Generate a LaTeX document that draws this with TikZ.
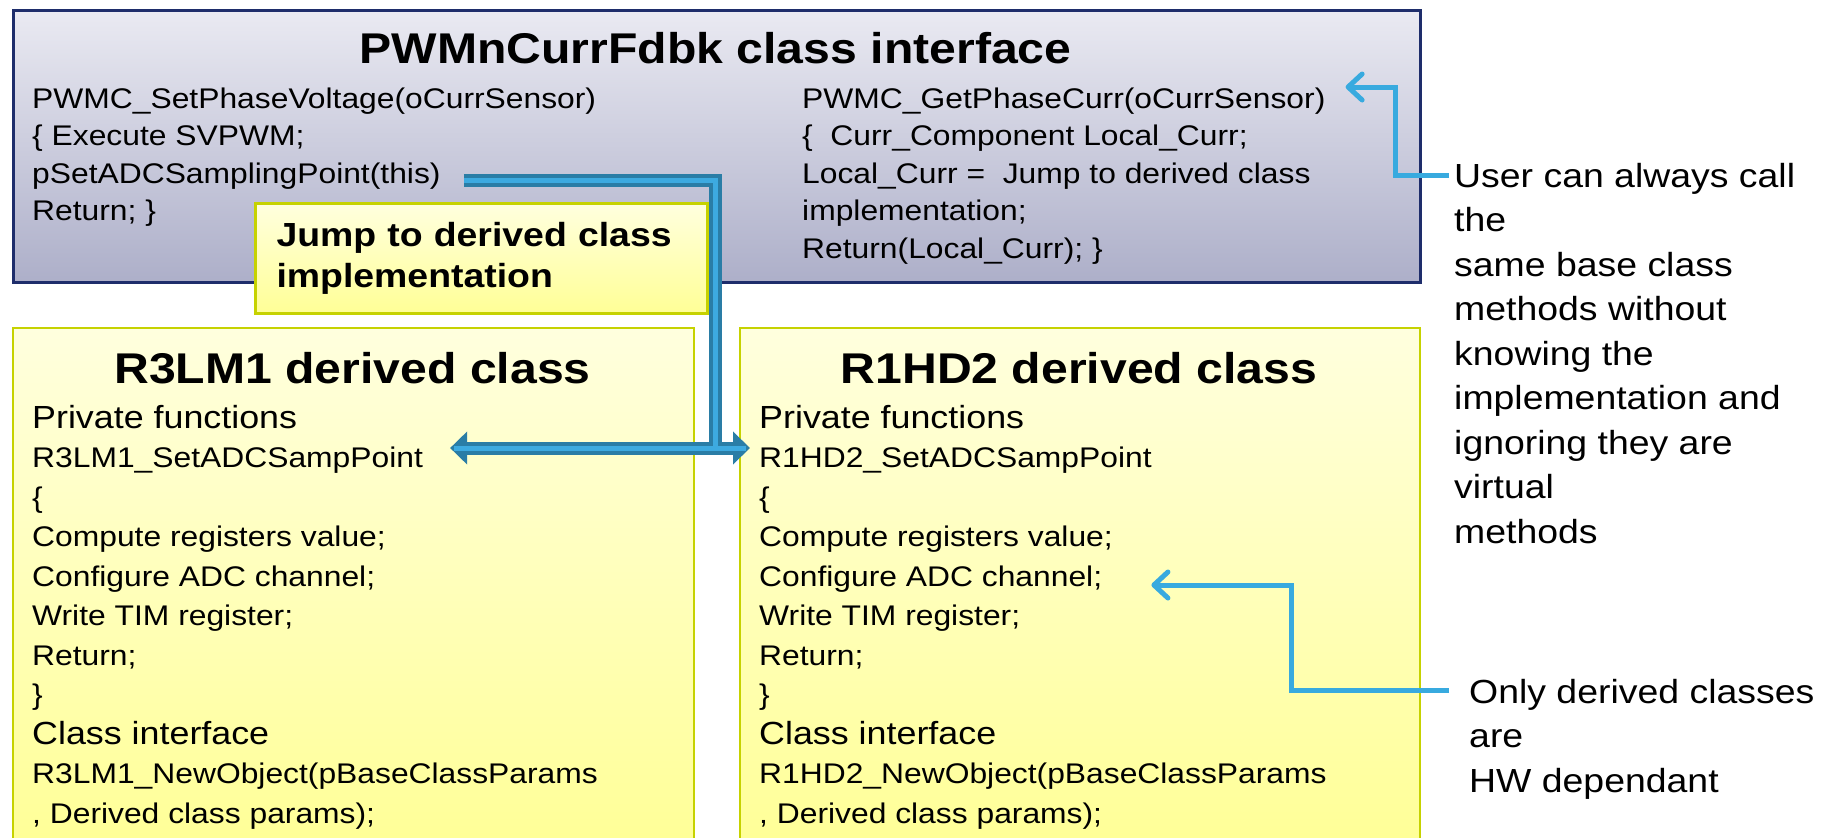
\documentclass[tikz,border=0pt]{standalone}
\usepackage{fontspec}
\setmainfont[FakeStretch=1.12]{Liberation Sans}
\usetikzlibrary{arrows.meta}

\begin{document}
\begin{tikzpicture}[x=1pt,y=-1pt]
%% Colors
\definecolor{baseTop}{HTML}{EAEAF2}
\definecolor{baseBot}{HTML}{ADAFC9}
\definecolor{baseLine}{HTML}{1E2D6B}
\definecolor{yelTop}{HTML}{FFFFDE}
\definecolor{yelBot}{HTML}{FFFF96}
\definecolor{yelLine}{HTML}{C6D200}
\definecolor{jumpDark}{HTML}{2A7DA6}
\definecolor{jumpLight}{HTML}{3DAAE0}
\definecolor{hintCol}{HTML}{38AADF}
%% Styles
\tikzset{
  boxcorner/.style={anchor=north west, inner sep=0pt},
  basebox/.style={boxcorner, draw=baseLine, line width=2.5pt, top color=baseTop, bottom color=baseBot},
  derbox/.style={boxcorner, draw=yelLine, line width=2pt, top color=yelTop, bottom color=yelBot},
  callbox/.style={boxcorner, draw=yelLine, line width=3pt, top color=yelTop, bottom color=yelBot,
    text width=410pt, inner xsep=21pt, align=left, minimum height=110pt,
    font=\bfseries\fontsize{33.4}{41}\selectfont},
  code/.style={anchor=base west, inner sep=0pt, font=\fontsize{28.4}{34}\selectfont},
  codebig/.style={code, font=\fontsize{32}{38}\selectfont},
  heading/.style={anchor=base, inner sep=0pt, font=\bfseries\fontsize{43}{50}\selectfont},
  note/.style={anchor=north west, inner sep=0pt, align=left, font=\fontsize{33.4}{44.5}\selectfont},
  jumpout/.style={draw=jumpDark, line width=13pt, -{Triangle[length=17pt,width=32pt]}},
  jumpin/.style={draw=jumpLight, line width=5pt, shorten >=4pt},
  hint/.style={draw=hintCol, line width=5pt, -{Straight Barb[length=14pt,width=26pt,round]}}
}
\useasboundingbox (0,0) rectangle (1829,838);
\begin{scope}
\clip (0,0) rectangle (1829,838);

%% Base class
\node[basebox, minimum width=1407pt, minimum height=272pt] (base) at (12,9) {};
\node[heading] (title) at (715.5,63) {PWMnCurrFdbk class interface};
\foreach \txt [count=\i] in {{PWMC\_SetPhaseVoltage(oCurrSensor)}, {\{ Execute SVPWM;},
  {pSetADCSamplingPoint(this)}, {Return; \}}}
  \node[code] (bl\i) at (32,108+37.5*\i-37.5) {\txt};
\foreach \txt [count=\i] in {{PWMC\_GetPhaseCurr(oCurrSensor)}, {\{\ \ Curr\_Component Local\_Curr;},
  {Local\_Curr =\ \ Jump to derived class}, {implementation;}, {Return(Local\_Curr); \}}}
  \node[code] (br\i) at (802,108+37.5*\i-37.5) {\txt};

%% Derived classes
\foreach \cls/\bx/\bw/\tx/\nm in {R3LM1/12/681/32/l, R1HD2/739/680/759/r}{
  \node[derbox, minimum width=\bw pt, minimum height=523pt] (\nm box) at (\bx,327) {};
  \node[heading] (\nm head) at (\bx+\bw/2,383) {\cls\ derived class};
  \node[codebig] (\nm1) at (\tx,428) {Private functions};
  \foreach \i/\txt in {2/{\cls\_SetADCSampPoint}, 3/{\{}, 4/{Compute registers value;},
    5/{Configure ADC channel;}, 6/{Write TIM register;}, 7/{Return;}, 8/{\}},
    10/{\cls\_NewObject(pBaseClassParams}, 11/{, Derived class params);}}
    \node[code] (\nm\i) at (\tx,428+39.5*\i-39.5) {\txt};
  \node[codebig] (\nm9) at (\tx,744) {Class interface};
}

%% Callout
\node[callbox] (jump) at (254,202) {Jump to derived class\\implementation};

%% Jump to the derived implementation
\coordinate (jmp) at ([xshift=23pt,yshift=3pt]bl3.base east);
\coordinate (jbend) at ([xshift=6pt]jump.east |- jmp);
\coordinate (jl) at ([xshift=27pt,yshift=19.5pt]l2.base east);
\coordinate (jr) at ([xshift=-9pt,yshift=19.5pt]r2.base west);
\draw[jumpout] (jmp) -- (jbend) |- (jl);
\draw[jumpout] (jbend) |- (jr);
\draw[jumpin] (jmp) -- (jbend) |- (jl);
\draw[jumpin] (jbend) |- (jr);

%% Notes
\node[note] (unote) at (1454,163) {User can always call\\the\\same base class\\methods without\\knowing the\\implementation and\\ignoring they are\\virtual\\methods};
\node[note] (hnote) at (1469,679) {Only derived classes\\are\\HW dependant};
\coordinate (ustart) at ([xshift=-5pt,yshift=-12pt]unote.north west);
\coordinate (utip) at ([xshift=20pt,yshift=21pt]br1.base east);
\draw[hint] (ustart) -- ++(-54,0) |- (utip);
\coordinate (hstart) at ([xshift=-20pt,yshift=-11pt]hnote.north west);
\coordinate (htip) at ([xshift=49pt,yshift=1pt]r5.base east);
\draw[hint] (hstart) -- ++(-158,0) |- (htip);
\end{scope}
\end{tikzpicture}
\end{document}
